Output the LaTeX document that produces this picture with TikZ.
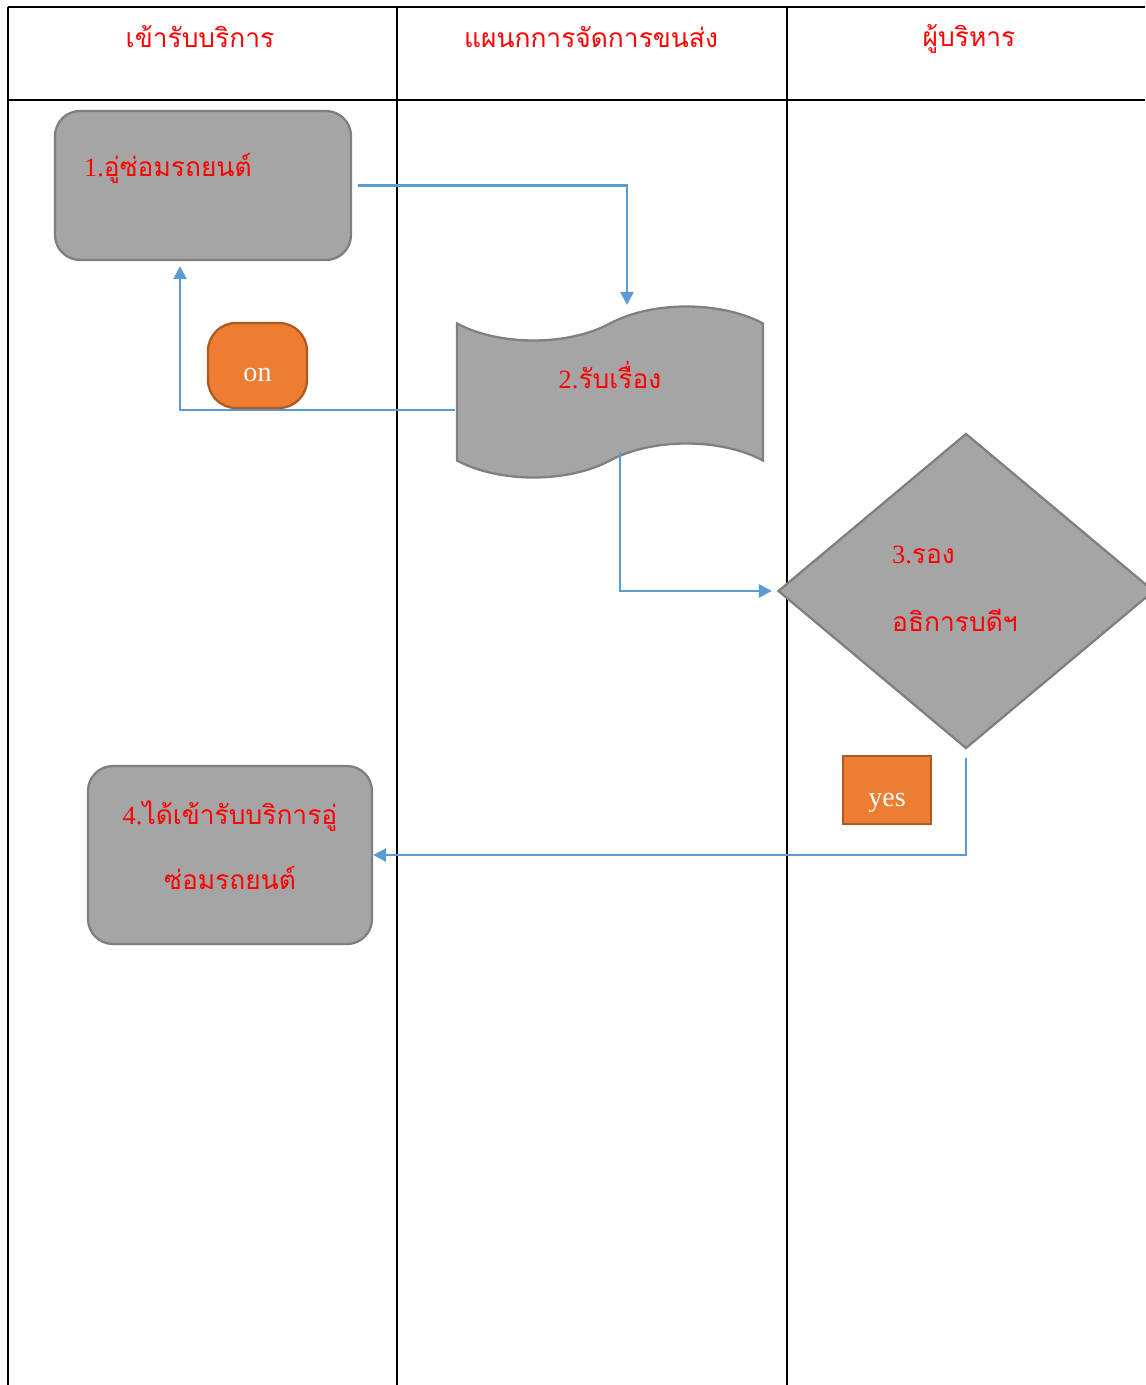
\documentclass[tikz,border=0pt]{standalone}
\usepackage{fontspec}
\setmainfont{Liberation Serif}
\newfontfamily\thai[Script=Thai]{Loma}
\usetikzlibrary{shapes.geometric,shapes.symbols,arrows.meta}
\definecolor{boxgrey}{HTML}{A5A5A5}
\definecolor{edgegrey}{HTML}{7F7F7F}
\definecolor{flowblue}{HTML}{5B9BD5}
\definecolor{tagorange}{HTML}{ED7D31}
\definecolor{tagedge}{HTML}{AE5A21}
\tikzset{
	lane/.style={line width=1.1pt},
	head/.style={text=red,font=\thai\fontsize{15}{18}\selectfont},
	steptext/.style={text=red,font=\fontsize{15}{18}\selectfont},
	stepbox/.style={rectangle,rounded corners=5mm,fill=boxgrey,draw=edgegrey,line width=1.3pt},
	tag/.style={fill=tagorange,draw=tagedge,line width=1.3pt,text=white,
		text height=6.5mm,text depth=0pt,font=\fontsize{16}{19}\selectfont},
	flow/.style={draw=flowblue,line width=1.4pt,-{Triangle[length=2.6mm,width=2.6mm]}}
}

\def\lanes{
	\draw[lane] (8,7) -- (1145,7)
			(8,100) -- (1145,100)
			(8,7) -- (8,1385)
			(397,7) -- (397,1385)
			(787,7) -- (787,1385);
	\path (200,37) node(Head1) [head] {เข้ารับบริการ}
			(591,37) node(Head2) [head] {แผนกการจัดการขนส่ง}
			(969,39) node(Head3) [head] {ผู้บริหาร};
}
\def\steps{
	\path (203,185.5) node(Box1) [stepbox,minimum width=59.2mm,minimum height=29.8mm] {}
			(78,168) node(Box1text) [steptext,anchor=west] {1.{\thai อู่ซ่อมรถยนต์}}
			(610,392) node(Tape2) [tape,fill=boxgrey,draw=edgegrey,line width=1.3pt,
				minimum width=61.2mm,minimum height=34.2mm,tape bend height=6.8mm,
				steptext,text depth=7mm] {2.{\thai รับเรื่อง}}
			(966,591) node(Decide3) [diamond,fill=boxgrey,draw=edgegrey,line width=1.3pt,
				minimum width=75.2mm,minimum height=63mm,inner sep=0pt] {}
			(886,555) node(Decide3a) [steptext,anchor=west] {3.{\thai รอง}}
			(886,620) node(Decide3b) [steptext,anchor=west] {\thai อธิการบดีฯ}
			(230,855) node(Box4) [stepbox,minimum width=56.8mm,minimum height=35.6mm,
				steptext,align=center,text depth=4mm] {4.{\thai ได้เข้ารับบริการอู่}\\[6.8mm]{\thai ซ่อมรถยนต์}};
}
\def\tags{
	\path (257.5,365.5) node(OnTag) [tag,rounded corners=5.6mm,minimum width=19.8mm,minimum height=17mm] {on}
			(887,790) node(YesTag) [tag,minimum width=17.6mm,minimum height=13.6mm] {yes};
}

\begin{document}
\begin{tikzpicture}[x=0.2mm,y=-0.2mm]
\useasboundingbox (0,0) rectangle (1145,1385);
\lanes
\steps
\draw[flow] ([xshift=1.2mm]Box1.east) -| ([xshift=3.4mm,yshift=17.4mm]Tape2.center);
\draw[flow] ([xshift=-31mm,yshift=-3.6mm]Tape2.center) -| ([xshift=-4.6mm,yshift=-1mm]Box1.south);
\draw[flow] ([xshift=2mm,yshift=-12mm]Tape2.center) |- ([xshift=-1mm]Decide3.west);
\draw[flow] ([yshift=-1.6mm]Decide3.south) |- (Box4.east);
\tags
\end{tikzpicture}
\end{document}
